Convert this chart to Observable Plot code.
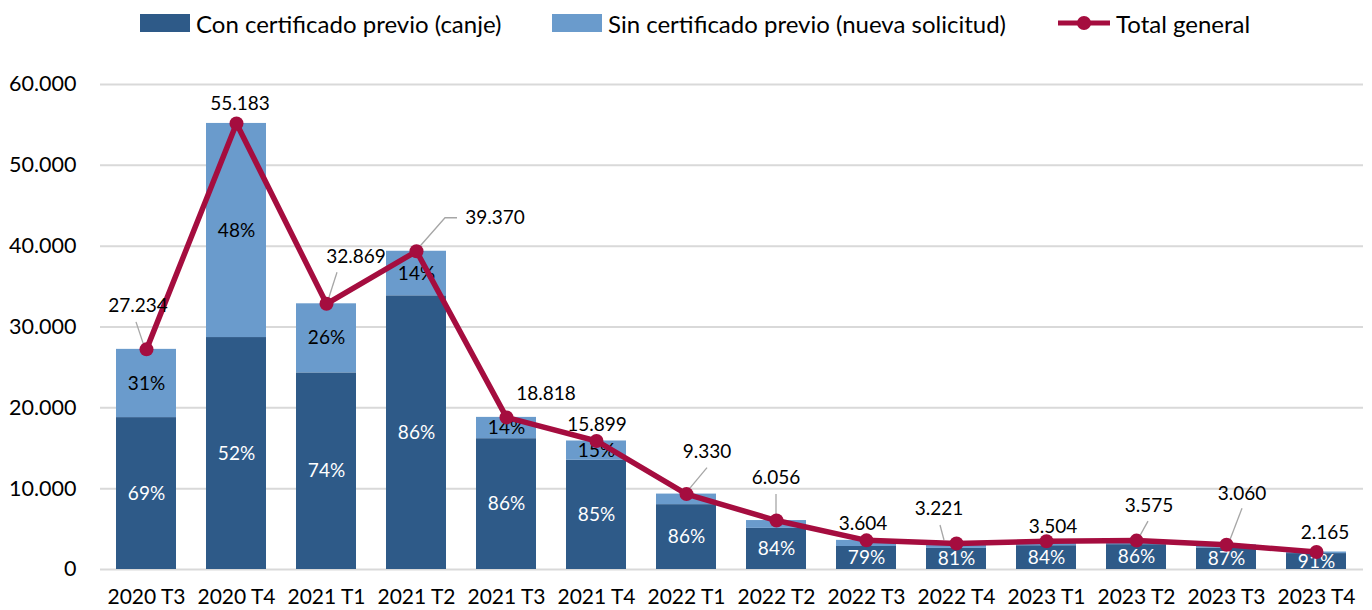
<!DOCTYPE html>
<html><head><meta charset="utf-8">
<script src="https://cdn.jsdelivr.net/npm/d3@7"></script>
<script src="https://cdn.jsdelivr.net/npm/@observablehq/plot@0.6"></script>
<style>
body{margin:0;background:#fff;font-family:Lato,sans-serif;width:1372px;height:610px;overflow:hidden;}
#legend{position:relative;height:50px;width:1372px;font-size:24px;color:#000;}
.li{position:absolute;top:-2px;height:50px;display:flex;align-items:center;white-space:nowrap;}
.sw{width:50px;height:18px;margin-right:6px;}
#chart svg{display:block;}
</style></head><body>
<div id="legend"></div>
<div id="chart"></div>
<script>
const quarters = ["2020 T3","2020 T4","2021 T1","2021 T2","2021 T3","2021 T4","2022 T1","2022 T2","2022 T3","2022 T4","2023 T1","2023 T2","2023 T3","2023 T4"];
const totals = [27234,55183,32869,39370,18818,15899,9330,6056,3604,3221,3504,3575,3060,2165];
const pctCon = [69,52,74,86,86,85,86,84,79,81,84,86,87,91];
const pctSinShown = [31,48,26,14,14,15,null,null,null,null,null,null,null,null];
const seriesNames = ["Con certificado previo (canje)","Sin certificado previo (nueva solicitud)","Total general"];
const yTicks = [0,10000,20000,30000,40000,50000,60000];

const colors = ["#2E5A88","#6A9BCC","#A50D3F"];
const loc = d3.formatLocale({decimal:",",thousands:".",grouping:[3],currency:["","€"]});
const fmt = loc.format(",d");

// label placement (pixel offsets relative to each point) and leader lines
const labelOffsets = [[-8,-44],[4,-20],[30,-47],[79,-33],[40,-24],[1,-16],[21,-42],[0,-43],[-3,-17],[-17,-35],[7,-14],[13,-35],[16,-51],[9,-19]];
const leaders = [[[-10,-27],[-2,-3]],null,[[11,-31],[2,-3]],[[0,0],[29,-33],[41,-33]],null,null,[[21,-26],[1,-2]],[[0,-26],[0,-3]],null,[[-16,-18],[-12,-3]],null,[[12,-19],[2,-1]],[[16,-36],[3,-2]],null];

const rows = [];
const pctRows = [];
const tot = quarters.map((q,i)=>({q,total:totals[i],i}));
quarters.forEach((q,i)=>{
  const con = Math.round(totals[i]*pctCon[i]/100);
  const sin = totals[i]-con;
  rows.push({q,serie:seriesNames[0],value:con});
  rows.push({q,serie:seriesNames[1],value:sin});
  pctRows.push({q,y:con/2,text:pctCon[i]+"%",fill:"#fff"});
  if (pctSinShown[i]!=null) pctRows.push({q,y:con+sin/2,text:pctSinShown[i]+"%",fill:"#000"});
});

// legend
const lg = d3.select("#legend");
const lefts = [140,552,1058];
seriesNames.forEach((s,k)=>{
  const d = lg.append("div").attr("class","li").style("left",lefts[k]+"px");
  if (k<2) d.append("div").attr("class","sw").style("background",colors[k]);
  else {
    const sv = d.append("svg").attr("width",58).attr("height",20);
    sv.append("line").attr("x1",0).attr("x2",52).attr("y1",10).attr("y2",10).attr("stroke",colors[2]).attr("stroke-width",5);
    sv.append("circle").attr("cx",26).attr("cy",10).attr("r",7).attr("fill",colors[2]);
  }
  d.append("span").text(s);
});

function totalLabels(index, scales) {
  const x = scales.x, y = scales.y;
  const bw = typeof x.bandwidth === "function" ? x.bandwidth() : 0;
  const g = d3.create("svg:g");
  tot.forEach((d,i)=>{
    const px = x(d.q)+bw/2, py = y(d.total);
    if (leaders[i]) {
      g.append("path").attr("d", "M"+leaders[i].map(p=>(px+p[0])+","+(py+p[1])).join("L"))
        .attr("fill","none").attr("stroke","#a6a6a6").attr("stroke-width",1.3);
    }
  });
  return g.node();
}
function totalText(index, scales) {
  const x = scales.x, y = scales.y;
  const bw = typeof x.bandwidth === "function" ? x.bandwidth() : 0;
  const g = d3.create("svg:g").attr("font-family","Lato,sans-serif").attr("font-size",19).attr("fill","#000");
  tot.forEach((d,i)=>{
    const px = x(d.q)+bw/2, py = y(d.total);
    g.append("text").attr("x",px+labelOffsets[i][0]).attr("y",py+labelOffsets[i][1])
      .attr("text-anchor","middle").attr("dy","0.35em").text(fmt(d.total));
  });
  return g.node();
}

const plot = Plot.plot({
  width:1372, height:560,
  marginTop:34, marginBottom:41, marginLeft:100, marginRight:9,
  style:{fontFamily:"Lato,sans-serif",fontSize:"21px",color:"#000",background:"#fff"},
  x:{domain:quarters,paddingInner:0.33,paddingOuter:0.165,label:null},
  y:{domain:[0,60000],label:null},
  color:{domain:seriesNames.slice(0,2),range:colors.slice(0,2)},
  marks:[
    Plot.ruleY(yTicks,{stroke:"#d9d9d9",strokeWidth:2}),
    Plot.axisY(yTicks,{tickSize:0,tickPadding:24,tickFormat:d=>fmt(d),fontSize:21.5,label:null}),
    Plot.axisX({tickSize:0,tickPadding:20,fontSize:21,label:null}),
    Plot.barY(rows,{x:"q",y:"value",fill:"serie"}),
    Plot.text(pctRows,{x:"q",y:"y",text:"text",fill:"fill",fontSize:19}),
    totalLabels,
    Plot.line(tot,{x:"q",y:"total",stroke:colors[2],strokeWidth:5.5}),
    Plot.dot(tot,{x:"q",y:"total",r:7,fill:colors[2]}),
    totalText
  ]
});
document.getElementById("chart").appendChild(plot);
</script>
</body></html>
